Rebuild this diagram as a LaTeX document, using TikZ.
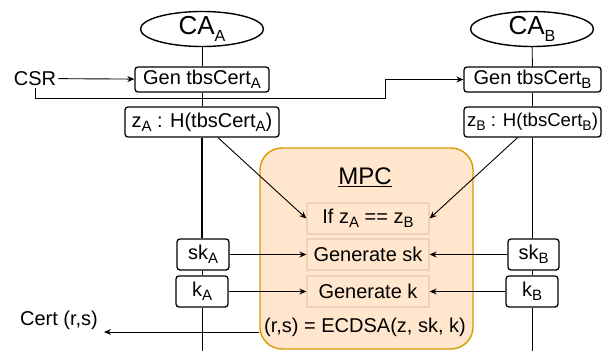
\documentclass[tikz,border=0pt]{standalone}
\usepackage{fontspec}
\usepackage{graphicx}
\setmainfont{Liberation Sans}
\usetikzlibrary{arrows.meta,shapes.geometric}
\definecolor{mpcfill}{HTML}{FFE6CC}
\definecolor{mpcdraw}{HTML}{D79B00}
\definecolor{innerdraw}{HTML}{EBD3BD}
\newcommand{\sbs}[1]{\raisebox{-0.22em}{\scalebox{0.75}{#1}}}
\newcommand{\sbsca}[1]{\raisebox{-0.25em}{\scalebox{0.62}{#1}}}
\begin{document}
\begin{tikzpicture}[x=1pt,y=-1pt,
  every node/.style={font=\fontsize{20}{24}\selectfont, inner sep=0pt},
  ca/.style={ellipse, draw, line width=1.4pt, minimum width=123pt, minimum height=35pt, font=\fontsize{26}{30}\selectfont},
  lbox/.style={draw, line width=1.3pt, rounded corners=3pt, fill=white},
  ibox/.style={draw=innerdraw, line width=1.3pt, minimum width=122pt, minimum height=31pt},
  txt/.style={inner sep=2pt},
  conn/.style={line width=0.9pt},
  arr/.style={conn, -{Stealth[length=7pt,width=6pt]}}
]
\useasboundingbox (0,0) rectangle (610,351);
% actors
\node[ca] (caA) at (202,29) {CA\sbsca{A}};
\node[ca] (caB) at (532,29) {CA\sbsca{B}};
% left column
\node[lbox, minimum width=134pt, minimum height=25pt] (genA) at (202,79.5) {Gen tbsCert\sbs{A}};
\node[lbox, minimum width=154pt, minimum height=30pt] (zA) at (202,122) {z\sbs{A} : H(tbsCert\sbs{A})};
\node[lbox, minimum width=52pt, minimum height=31pt] (skA) at (203,254.5) {sk\sbs{A}};
\node[lbox, minimum width=52pt, minimum height=31pt] (kA) at (202,291.5) {k\sbs{A}};
% right column
\node[lbox, minimum width=137pt, minimum height=25pt] (genB) at (532.5,79.5) {Gen tbsCert\sbs{B}};
\node[lbox, minimum width=137pt, minimum height=30pt, font=\fontsize{18.6}{22}\selectfont] (zB) at (532.5,122) {z\sbs{B} : H(tbsCert\sbs{B})};
\node[lbox, minimum width=51pt, minimum height=31pt] (skB) at (533.5,254.5) {sk\sbs{B}};
\node[lbox, minimum width=52pt, minimum height=31pt] (kB) at (532,291.5) {k\sbs{B}};
% MPC
\node[draw=mpcdraw, fill=mpcfill, line width=1.4pt, rounded corners=22pt, minimum width=213pt, minimum height=201pt] (mpc) at (366.5,248.5) {};
\node[font=\fontsize{24}{28}\selectfont] (mpclabel) at (365,177) {\underline{MPC}};
\node[ibox] (ifz) at (368,218.5) {If z\sbs{A} == z\sbs{B}};
\node[ibox] (gensk) at (368,254.5) {Generate sk};
\node[ibox] (genk) at (368,291.5) {Generate k};
\node (ecdsa) at (365,327) {(r,s) = ECDSA(z, sk, k)};
% free texts
\node[txt] (csr) at (35,78.5) {CSR};
\node[txt] (cert) at (59,320) {Cert (r,s)};
\coordinate (endA) at (202,351);
\coordinate (endB) at (532,351);
\coordinate (certend) at (104,332);
\coordinate (turn) at (385,98);
% lifelines
\draw[conn] (caA) -- (genA);
\draw[conn] (genA) -- (zA);
\draw[line width=1.5pt] (zA) -- (skA.north -| zA.south);
\draw[conn] (skA.south -| kA.north) -- (kA);
\draw[conn] (kA) -- (endA);
\draw[conn] (caB) -- (genB);
\draw[conn] (genB) -- (zB);
\draw[conn] (zB.south -| endB) -- (skB.north -| endB);
\draw[conn] (skB.south -| kB.north) -- (kB);
\draw[conn] (kB) -- (endB);
% connectors
\draw[arr] (csr) -- (genA);
\draw[arr] (csr.south) |- (turn) |- (genB.west);
\draw[arr] ([xshift=16pt]zA.south) -- (ifz.west);
\draw[arr] ([xshift=-15pt]zB.south) -- (ifz.east);
\draw[arr] (skA) -- (gensk);
\draw[arr] (kA) -- (genk);
\draw[arr] (skB) -- (gensk);
\draw[arr] (kB) -- (genk);
\draw[arr] (mpc.west |- certend) -- (certend);
\end{tikzpicture}
\end{document}
